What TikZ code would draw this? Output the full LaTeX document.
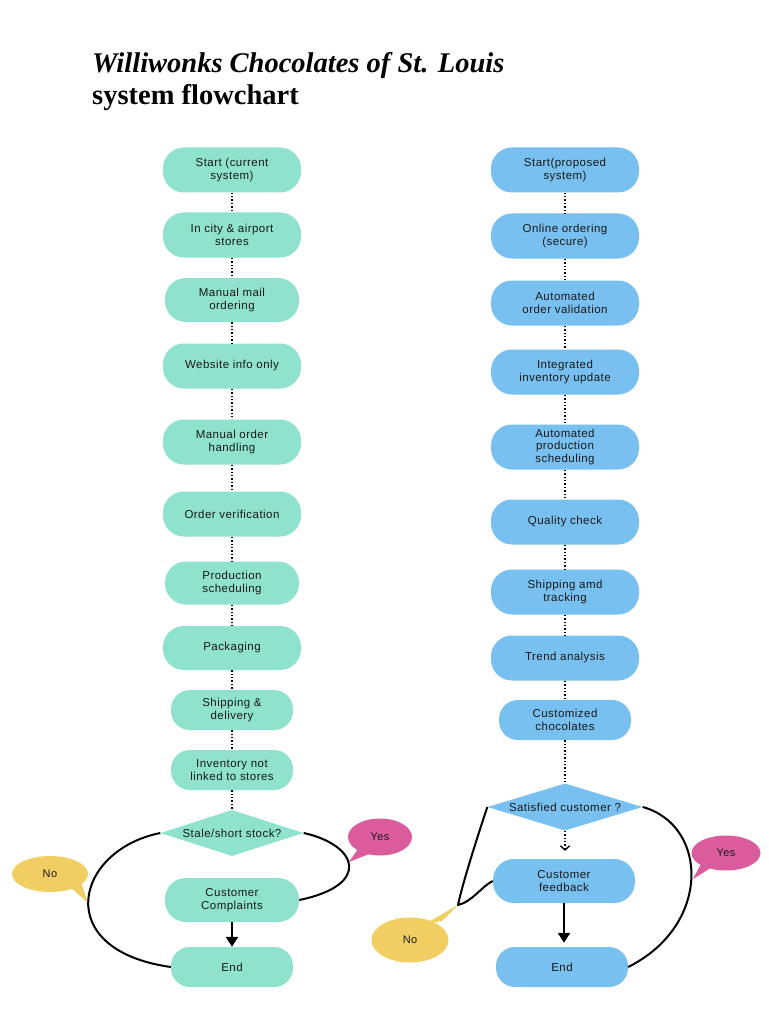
\documentclass[tikz,border=0pt]{standalone}
\usepackage{fontspec}
\usetikzlibrary{shapes.geometric,arrows.meta}
\newfontfamily\nodefont[LetterSpace=4]{Liberation Sans}
\newfontfamily\titlefont{Liberation Serif}
\definecolor{tealfill}{RGB}{142,226,206}
\definecolor{bluefill}{RGB}{120,192,240}
\definecolor{pinkfill}{RGB}{218,92,156}
\definecolor{yellowfill}{RGB}{240,206,98}
\definecolor{txt}{RGB}{25,25,25}
\tikzset{
  base/.style={rectangle, rounded corners=21pt, font=\nodefont\fontsize{11.5}{12.5}\selectfont,
    text=txt, align=center, inner sep=0pt, minimum width=138pt, minimum height=45pt},
  tbox/.style={base, fill=tealfill},
  bbox/.style={base, fill=bluefill, minimum width=148pt},
  smallbox/.style={rounded corners=19pt, minimum width=122pt, minimum height=40pt},
  dia/.style={diamond, inner sep=0pt, aspect=3},
  bubble/.style={ellipse, inner sep=0pt, font=\nodefont\fontsize{11}{12}\selectfont, text=txt},
  dotline/.style={draw=black, dotted, line width=1.4pt},
  curve/.style={draw=black, line width=2pt},
  solidarrow/.style={draw=black, line width=2.4pt, -{Triangle[length=10pt,width=12pt]}},
}
\begin{document}
\begin{tikzpicture}[x=1pt,y=-1pt]
\useasboundingbox (0,0) rectangle (768,1024);
\fill[white] (0,0) rectangle (768,1024);

% title
\node[anchor=base west, inner sep=0pt, font=\titlefont\fontsize{28.5}{30}\selectfont\bfseries\itshape] (title1) at (92,73) {Williwonks Chocolates of St. Louis};
\node[anchor=base west, inner sep=0pt, font=\titlefont\fontsize{28.5}{30}\selectfont\bfseries] (title2) at (92,105) {system flowchart};

% bubbles (drawn first, tails under curves)
\fill[pinkfill] (360,846) -- (349,862) -- (374,852) -- cycle;
\node[bubble, fill=pinkfill, minimum width=64pt, minimum height=37pt] (yesL) at (380,837) {Yes};
\fill[yellowfill] (68,885) -- (88,903) -- (80,879) -- cycle;
\node[bubble, fill=yellowfill, minimum width=76pt, minimum height=36pt] (noL) at (50,874) {No};
\fill[pinkfill] (702,862) -- (693,879) -- (714,866) -- cycle;
\node[bubble, fill=pinkfill, minimum width=69pt, minimum height=35pt] (yesR) at (726,853) {Yes};
\fill[yellowfill] (425,924) -- (458,905) -- (442,921) -- cycle;
\node[bubble, fill=yellowfill, minimum width=77pt, minimum height=45pt] (noR) at (410,940) {No};

% left chart
\node[tbox] (l1) at (232,170) {Start (current\\system)};
\node[tbox] (l2) at (232,235) {In city \& airport\\stores};
\node[tbox, minimum width=134pt, minimum height=44pt] (l3) at (232,300) {Manual mail\\ordering};
\node[tbox] (l4) at (232,366) {Website info only};
\node[tbox] (l5) at (232,442) {Manual order\\handling};
\node[tbox] (l6) at (232,514) {Order verification};
\node[tbox, minimum width=134pt, minimum height=43pt] (l7) at (232,583) {Production\\scheduling};
\node[tbox, minimum height=44pt] (l8) at (232,648) {Packaging};
\node[tbox, smallbox] (l9) at (232,710) {Shipping \&\\delivery};
\node[tbox, smallbox] (l10) at (232,770) {Inventory not\\linked to stores};
\node[dia, fill=tealfill, minimum width=143pt, minimum height=46pt,
  label={[font=\nodefont\fontsize{11.5}{12.5}\selectfont, text=txt]center:Stale/short stock?}] (dL) at (232,833) {};
\node[tbox, minimum width=134pt, minimum height=44pt] (ccL) at (232,900) {Customer\\Complaints};
\node[tbox, smallbox] (endL) at (232,967) {End};

\foreach \a/\b in {l1/l2,l2/l3,l3/l4,l4/l5,l5/l6,l6/l7,l7/l8,l8/l9,l9/l10,l10/dL}
  \draw[dotline] (\a) -- (\b);
\draw[solidarrow] (ccL) -- (endL);
\draw[curve] (dL.west) .. controls (75,850) and (50,950) .. (endL.west);
\draw[curve] (dL.east) .. controls (358,845) and (372,885) .. (ccL.east);

% right chart
\node[bbox] (r1) at (565,170) {Start(proposed\\system)};
\node[bbox] (r2) at (565,236) {Online ordering\\(secure)};
\node[bbox] (r3) at (565,303) {Automated\\order validation};
\node[bbox] (r4) at (565,372) {Integrated\\inventory update};
\node[bbox] (r5) at (565,447) {Automated\\production\\scheduling};
\node[bbox] (r6) at (565,522) {Quality check};
\node[bbox] (r7) at (565,592) {Shipping amd\\tracking};
\node[bbox] (r8) at (565,658) {Trend analysis};
\node[bbox, rounded corners=19pt, minimum width=132pt, minimum height=40pt] (r9) at (565,720) {Customized\\chocolates};
\node[dia, fill=bluefill, minimum width=155pt, minimum height=47pt,
  label={[font=\nodefont\fontsize{11.5}{12.5}\selectfont, text=txt]center:Satisfied customer ?}] (dR) at (565,807) {};
\node[bbox, minimum width=142pt, minimum height=44pt] (cfR) at (564,881) {Customer\\feedback};
\node[bbox, rounded corners=19pt, minimum width=132pt, minimum height=40pt] (endR) at (562,967) {End};

\foreach \a/\b in {r1/r2,r2/r3,r3/r4,r4/r5,r5/r6,r6/r7,r7/r8,r8/r9,r9/dR}
  \draw[dotline] (\a) -- (\b);
\draw[dotline, -{Straight Barb[length=4pt,width=9pt]}, shorten >=8pt] (dR.south) -- (dR.south |- cfR.north);
\draw[solidarrow, shorten >=4pt] (cfR.south) -- (cfR.south |- endR.north);
\coordinate (kinkR) at (458,905);
\draw[curve, line join=round] (dR.west) .. controls (478,835) and (462,885) .. (kinkR) .. controls (472,902) and (482,886) .. (cfR.west);
\draw[curve] (dR.east) .. controls (708,825) and (712,925) .. (endR.east);
\end{tikzpicture}
\end{document}
